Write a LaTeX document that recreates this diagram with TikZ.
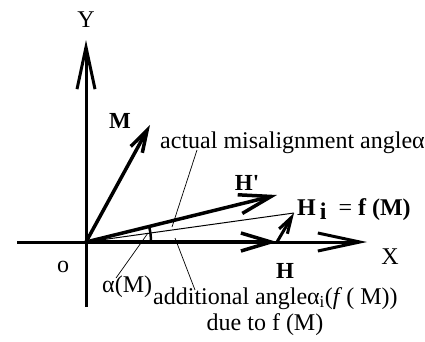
\documentclass[tikz,border=0pt]{standalone}
\usepackage{fontspec}
\setmainfont{Liberation Serif}
\usetikzlibrary{arrows.meta}
\tikzstyle{txt} = [inner sep=0pt, font=\fontsize{24}{28}\selectfont]
\tikzstyle{vec} = [inner sep=0pt, font=\fontsize{23}{27}\selectfont\bfseries]
\tikzset{axis/.style = {
    line width=3pt,
    -{Straight Barb[length=42pt, width=18pt]},
  }
}
\tikzset{arr/.style = {
    line width=3.5pt,
    -{Straight Barb[length=#1, width=0.6*#1]},
  }
}
\tikzset{leader/.style = {line width=0.7pt}}

\begin{document}
\begin{tikzpicture}[x=1pt, y=1pt]
            \useasboundingbox (0,0) rectangle (425,341);
            % points
            \coordinate (O) at (86,99);
            \coordinate (ybot) at (86,34);
            \coordinate (ytop) at (86,301);
            \coordinate (xlft) at (17,99);
            \coordinate (xrgt) at (367,99);
            \coordinate (Mtip) at (150,216);
            \coordinate (Hptip) at (277,146);
            \coordinate (Htip) at (277,99);
            \coordinate (Hitip) at (294,128);
            \coordinate (a1) at (197,191);
            \coordinate (a2) at (172,114);
            \coordinate (b1) at (175,103);
            \coordinate (b2) at (195,51);
            \coordinate (c1) at (116,63);
            \coordinate (c2) at (148,108);

            % labels
            \node[txt] (ylab) at (86,321) {Y};
            \node[txt] (xlab) at (390,84) {X};
            \node[txt] (olab) at (63,74) {o};
            \node[vec] (mlab) at (120,220) {M};
            \node[vec] (hplab) at (247,158) {H\textquotesingle};
            \node[vec] (hlab) at (285,70) {H};
            \node[txt, anchor=base west] (hilab) at (297,126)
                {\bfseries H\,\raisebox{-4pt}{i}\enspace\mdseries = \bfseries f (M)};
            \node[txt, anchor=base west] (actual) at (160,193) {actual misalignment angleα};
            \node[txt, anchor=base west] (alpham) at (102,49) {α(M)};
            \node[txt, anchor=base west] (addl) at (153,37)
                {additional angleα\textsubscript{i}(\textit{f}\,( M))};
            \node[txt, anchor=base] (due) at (265,11) {due to f (M)};

            %axes
            \draw[axis] (ybot) -- (ytop);
            \draw[axis] (xlft) -- (xrgt);

            %vectors
            \draw[arr=22pt] (O) -- (Mtip);
            \draw[arr=32pt] (O) -- (Hptip);
            \draw[arr=30pt] (O) -- (Htip);
            \draw[arr=16pt, line width=3pt] (Htip) -- (Hitip);
            \draw[line width=1pt] (O) -- (Hitip);
            \draw[line width=2.5pt] (O) ++(65,0) arc (0:13.8:65);

            %leaders
            \draw[leader] (a1) -- (a2);
            \draw[leader] (b1) -- (b2);
            \draw[leader] (c1) -- (c2);
\end{tikzpicture}
\end{document}
